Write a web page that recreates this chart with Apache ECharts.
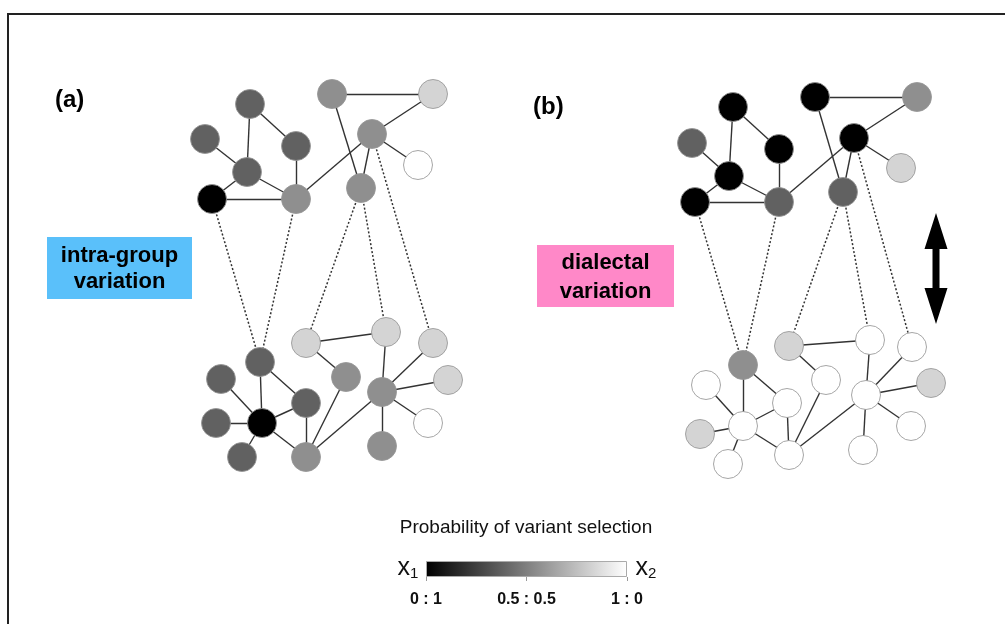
<!DOCTYPE html>
<html>
<head>
<meta charset="utf-8">
<script src="https://cdn.jsdelivr.net/npm/echarts@6/dist/echarts.min.js"></script>
<style>
  html, body { margin: 0; padding: 0; background: #fff; }
  #chart { width: 1005px; height: 624px; }
</style>
</head>
<body>
<div id="chart"></div>
<script>
// node positions (in page units) and variant probability (0 = x1, 1 = x2)
const aTopX = [250, 205, 296, 247, 212, 296, 332, 433, 372, 418, 361];
const aTopY = [104, 139, 146, 172, 199, 199, 94, 94, 134, 165, 188];
const aTopP = [0.38, 0.38, 0.38, 0.38, 0, 0.56, 0.56, 0.83, 0.56, 1, 0.56];

const aBotX = [260, 221, 216, 262, 242, 306, 306, 306, 346, 386, 433, 448, 382, 428, 382];
const aBotY = [362, 379, 423, 423, 457, 403, 457, 343, 377, 332, 343, 380, 392, 423, 446];
const aBotP = [0.38, 0.38, 0.38, 0, 0.38, 0.38, 0.56, 0.83, 0.56, 0.83, 0.83, 0.83, 0.56, 1, 0.56];

const bTopX = [733, 692, 779, 729, 695, 779, 815, 917, 854, 901, 843];
const bTopY = [107, 143, 149, 176, 202, 202, 97, 97, 138, 168, 192];
const bTopP = [0, 0.38, 0, 0, 0, 0.38, 0, 0.56, 0, 0.83, 0.38];

const bBotX = [743, 706, 700, 743, 728, 787, 789, 789, 826, 870, 912, 931, 866, 911, 863];
const bBotY = [365, 385, 434, 426, 464, 403, 455, 346, 380, 340, 347, 383, 395, 426, 450];
const bBotP = [0.56, 1, 0.83, 1, 1, 1, 1, 0.83, 1, 1, 1, 0.83, 1, 1, 1];

// edges (same topology in both panels)
const topEdges = [[0, 3], [0, 2], [1, 3], [3, 4], [3, 5], [4, 5], [2, 5], [5, 8], [6, 7], [7, 8], [8, 9], [8, 10], [6, 10]];
const botEdges = [[0, 3], [0, 5], [1, 3], [2, 3], [4, 3], [3, 5], [3, 6], [5, 6], [7, 9], [7, 8], [8, 6], [6, 12], [9, 12], [10, 12], [11, 12], [13, 12], [14, 12]];
// dotted links: [top node, bottom node]
const crossEdges = [[4, 0], [5, 0], [10, 7], [10, 9], [8, 10]];

// colour bar
const barTicks = [0, 0.5, 1];
const barLabels = ['0 : 1', '0.5 : 0.5', '1 : 0'];

const FONT = '"Liberation Sans", Arial, Helvetica, sans-serif';

const grey = (p) => {
  const g = Math.round(p * 255);
  return 'rgb(' + g + ',' + g + ',' + g + ')';
};

const buildPanel = (tx, ty, tp, bx, by, bp) => {
  const nodes = [];
  tx.forEach((x, i) => nodes.push({ value: [x, ty[i]], itemStyle: { color: grey(tp[i]) } }));
  bx.forEach((x, i) => nodes.push({ value: [x, by[i]], itemStyle: { color: grey(bp[i]) } }));
  const off = tx.length;
  const links = [];
  topEdges.forEach(([s, t]) => links.push({ source: s, target: t }));
  botEdges.forEach(([s, t]) => links.push({ source: s + off, target: t + off }));
  crossEdges.forEach(([s, t]) => links.push({
    source: s, target: t + off,
    lineStyle: { type: [2, 2], width: 1.5, color: '#333' }
  }));
  return {
    type: 'graph',
    layout: 'none',
    coordinateSystem: 'cartesian2d',
    xAxisIndex: 0,
    yAxisIndex: 0,
    symbol: 'circle',
    symbolSize: 29,
    silent: true,
    itemStyle: { borderColor: 'rgba(150,150,150,0.85)', borderWidth: 1 },
    lineStyle: { color: '#333', width: 1.4, opacity: 1, curveness: 0 },
    data: nodes,
    links: links,
    z: 3
  };
};

const chart = echarts.init(document.getElementById('chart'));

const option = {
  backgroundColor: '#fff',
  animation: false,
  grid: [
    { left: 0, right: 0, top: 0, bottom: 0 },
    { left: 426, width: 201, top: 561, height: 16 }
  ],
  xAxis: [
    { type: 'value', min: 0, max: 1005, show: false, gridIndex: 0 },
    {
      type: 'value', gridIndex: 1, min: 0, max: 1, interval: 0.5,
      axisLine: { show: false },
      splitLine: { show: false },
      axisTick: { show: true, length: 4, lineStyle: { color: '#999' } },
      axisLabel: {
        margin: 15,
        color: '#111',
        fontFamily: FONT,
        fontWeight: 'bold',
        fontSize: 16,
        formatter: (v) => barLabels[barTicks.indexOf(v)]
      }
    }
  ],
  yAxis: [
    { type: 'value', min: 0, max: 624, inverse: true, show: false, gridIndex: 0 },
    { type: 'category', data: ['p'], show: false, gridIndex: 1 }
  ],
  series: [
    buildPanel(aTopX, aTopY, aTopP, aBotX, aBotY, aBotP),
    buildPanel(bTopX, bTopY, bTopP, bBotX, bBotY, bBotP),
    {
      type: 'bar',
      xAxisIndex: 1,
      yAxisIndex: 1,
      data: [1],
      barWidth: '100%',
      silent: true,
      itemStyle: {
        borderColor: '#aaa',
        borderWidth: 1,
        color: new echarts.graphic.LinearGradient(0, 0, 1, 0, [
          { offset: 0, color: '#000' },
          { offset: 1, color: '#fff' }
        ])
      }
    }
  ],
  graphic: [
    // frame
    {
      type: 'polyline',
      shape: { points: [[8, 624], [8, 14], [1005, 14]] },
      style: { stroke: '#222', lineWidth: 2, fill: null }
    },
    { type: 'text', left: 55, top: 88, style: { text: '(a)', font: 'bold 24px ' + FONT, fill: '#000' } },
    { type: 'text', left: 533, top: 95, style: { text: '(b)', font: 'bold 24px ' + FONT, fill: '#000' } },
    // label boxes
    { type: 'rect', shape: { x: 47, y: 237, width: 145, height: 62 }, style: { fill: '#5ac0fa' } },
    {
      type: 'text', x: 119.5, y: 269,
      style: { text: 'intra-group\nvariation', font: 'bold 22px ' + FONT, fill: '#000', align: 'center', verticalAlign: 'middle', lineHeight: 26 }
    },
    { type: 'rect', shape: { x: 537, y: 245, width: 137, height: 62 }, style: { fill: '#ff88c8' } },
    {
      type: 'text', x: 605.5, y: 277,
      style: { text: 'dialectal\nvariation', font: 'bold 22px ' + FONT, fill: '#000', align: 'center', verticalAlign: 'middle', lineHeight: 29 }
    },
    // double arrow
    {
      type: 'polygon',
      shape: {
        points: [[936, 213], [947.5, 249], [939.5, 249], [939.5, 288], [947.5, 288], [936, 324],
                 [924.5, 288], [932.5, 288], [932.5, 249], [924.5, 249]]
      },
      style: { fill: '#000' }
    },
    // colour bar title and end labels
    {
      type: 'text', x: 526, y: 528,
      style: { text: 'Probability of variant selection', font: '19px ' + FONT, fill: '#111', align: 'center', verticalAlign: 'middle' }
    },
    {
      type: 'text', x: 408, y: 568,
      style: {
        text: '{x|x}{s|1}', align: 'center', verticalAlign: 'middle',
        rich: {
          x: { font: '25px ' + FONT, fill: '#111' },
          s: { font: '15px ' + FONT, fill: '#111', padding: [11, 0, 0, 0] }
        }
      }
    },
    {
      type: 'text', x: 646, y: 568,
      style: {
        text: '{x|x}{s|2}', align: 'center', verticalAlign: 'middle',
        rich: {
          x: { font: '25px ' + FONT, fill: '#111' },
          s: { font: '15px ' + FONT, fill: '#111', padding: [11, 0, 0, 0] }
        }
      }
    }
  ]
};

chart.setOption(option);
</script>
</body>
</html>
